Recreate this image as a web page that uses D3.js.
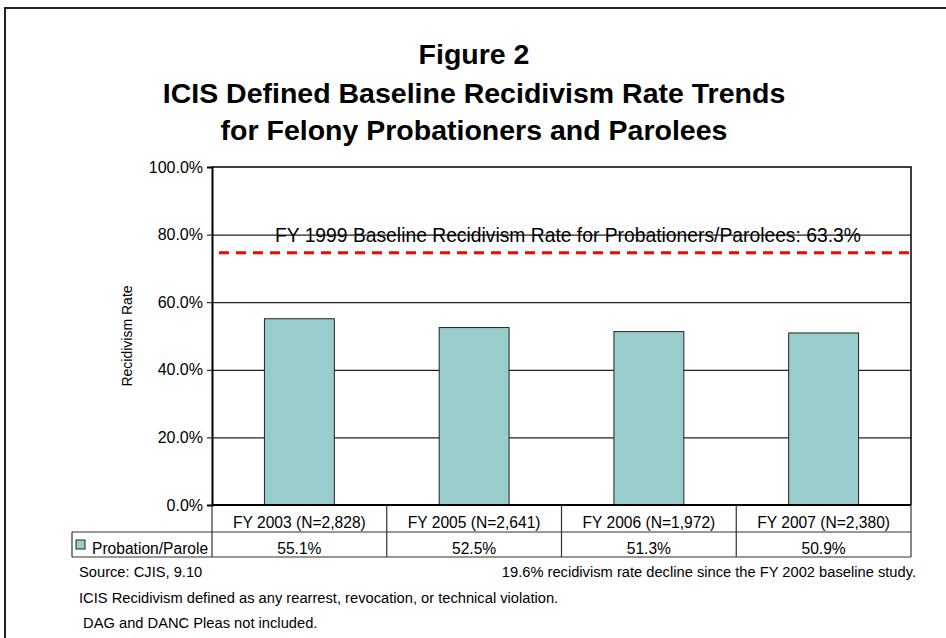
<!DOCTYPE html>
<html>
<head>
<meta charset="utf-8">
<script src="https://cdn.jsdelivr.net/npm/d3@7"></script>
<style>
  html, body { margin: 0; padding: 0; background: #fff; }
  svg { display: block; font-family: "Liberation Sans", Arial, sans-serif; }
</style>
</head>
<body>
<svg id="chart" width="946" height="638"></svg>
<script>
// ---- data ----
const titleLines = ["Figure 2", "ICIS Defined Baseline Recidivism Rate Trends", "for Felony Probationers and Parolees"];
const categories = ["FY 2003 (N=2,828)", "FY 2005 (N=2,641)", "FY 2006 (N=1,972)", "FY 2007 (N=2,380)"];
const values = [55.1, 52.5, 51.3, 50.9];
const seriesName = "Probation/Parole";
const tickValues = [0, 20, 40, 60, 80, 100];
const baselineValue = 74.6;   // position at which the dashed reference line is drawn
const baselineLabel = "FY 1999 Baseline Recidivism Rate for Probationers/Parolees: 63.3%";
const yAxisTitle = "Recidivism Rate";
const notesLeft = ["Source: CJIS, 9.10", "ICIS Recidivism defined as any rearrest, revocation, or technical violation.", " DAG and DANC Pleas not included."];
const noteRight = "19.6% recidivism rate decline since the FY 2002 baseline study.";

// ---- layout ----
const svg = d3.select("#chart");
const P = { left: 212, right: 911, top: 167, bottom: 505 };
const tableLeft = 72, row1 = 532, row2 = 557;

// outer frame (top and left visible)
svg.append("rect").attr("x", 5).attr("y", 8).attr("width", 1000).attr("height", 1000)
  .attr("fill", "none").attr("stroke", "#222").attr("stroke-width", 2);

// title
svg.append("g").selectAll("text").data(titleLines).join("text")
  .attr("x", 474).attr("y", (d, i) => [64, 103, 140][i])
  .attr("text-anchor", "middle").attr("font-weight", "bold").attr("font-size", 28.5)
  .attr("fill", "#000").text(d => d);

const x = d3.scaleBand().domain(categories).range([P.left, P.right]).paddingInner(0.6).paddingOuter(0.3);
const y = d3.scaleLinear().domain([0, 100]).range([P.bottom, P.top]);

// gridlines
svg.append("g").attr("transform", `translate(${P.left},0)`)
  .call(d3.axisLeft(y).tickValues(tickValues.filter(v => v > 0 && v < 100)).tickSize(-(P.right - P.left)).tickFormat(""))
  .call(g => g.select(".domain").remove())
  .call(g => g.selectAll("line").attr("stroke", "#222").attr("stroke-width", 1.2));

// plot border top/right
svg.append("path").attr("d", `M${P.left},${P.top}H${P.right}V${P.bottom}`)
  .attr("fill", "none").attr("stroke", "#000").attr("stroke-width", 1.5);

// bars
svg.append("g").selectAll("rect").data(values).join("rect")
  .attr("x", (d, i) => x(categories[i])).attr("width", x.bandwidth())
  .attr("y", d => y(d)).attr("height", d => y(0) - y(d))
  .attr("fill", "#99CCCC").attr("stroke", "#222").attr("stroke-width", 1);

// baseline dashed line + label
svg.append("line").attr("x1", P.left + 7).attr("x2", P.right)
  .attr("y1", y(baselineValue)).attr("y2", y(baselineValue))
  .attr("stroke", "#FF0000").attr("stroke-width", 3).attr("stroke-dasharray", "10,7");
svg.append("text").attr("x", 275).attr("y", y(80) + 7).attr("font-size", 19.3).attr("fill", "#000")
  .text(baselineLabel);

// y axis
const yAxis = svg.append("g").attr("transform", `translate(${P.left},0)`)
  .call(d3.axisLeft(y).tickValues(tickValues).tickSize(5).tickPadding(4).tickFormat(d => d.toFixed(1) + "%"));
yAxis.select(".domain").attr("stroke", "#000").attr("stroke-width", 2);
yAxis.selectAll("line").attr("stroke", "#000");
yAxis.selectAll("text").attr("font-size", 16).attr("fill", "#000").attr("font-family", "Liberation Sans, Arial, sans-serif");

// x baseline
svg.append("line").attr("x1", P.left).attr("x2", P.right).attr("y1", P.bottom).attr("y2", P.bottom)
  .attr("stroke", "#000").attr("stroke-width", 2);

// y axis title
svg.append("text").attr("transform", `translate(132,336) rotate(-90)`)
  .attr("text-anchor", "middle").attr("font-size", 14).attr("fill", "#000").text(yAxisTitle);

// data table
const step = x.step();
const colEdges = categories.map((c, i) => x(c) + x.bandwidth() / 2 - step / 2);
const tbl = svg.append("g").attr("stroke", "#333").attr("stroke-width", 1.2);
colEdges.forEach(cx => tbl.append("line").attr("x1", cx).attr("x2", cx).attr("y1", P.bottom).attr("y2", row2));
tbl.append("line").attr("x1", P.right).attr("x2", P.right).attr("y1", P.bottom).attr("y2", row2);
tbl.append("line").attr("x1", tableLeft).attr("x2", P.right).attr("y1", row1).attr("y2", row1);
tbl.append("line").attr("x1", tableLeft).attr("x2", P.right).attr("y1", row2).attr("y2", row2);
tbl.append("line").attr("x1", tableLeft).attr("x2", tableLeft).attr("y1", row1).attr("y2", row2);

svg.append("g").selectAll("text").data(categories).join("text")
  .attr("x", d => x(d) + x.bandwidth() / 2).attr("y", 527.5)
  .attr("text-anchor", "middle").attr("font-size", 15.6).attr("fill", "#000").text(d => d);
svg.append("g").selectAll("text").data(values).join("text")
  .attr("x", (d, i) => x(categories[i]) + x.bandwidth() / 2).attr("y", 553.5)
  .attr("text-anchor", "middle").attr("font-size", 15.6).attr("fill", "#000").text(d => d.toFixed(1) + "%");

// legend key
svg.append("rect").attr("x", 76).attr("y", 540).attr("width", 9).attr("height", 9)
  .attr("fill", "#99CCCC").attr("stroke", "#222").attr("stroke-width", 1);
svg.append("text").attr("x", 92).attr("y", 553.5).attr("font-size", 15.6).attr("fill", "#000").text(seriesName);

// notes
svg.append("g").selectAll("text").data(notesLeft).join("text")
  .attr("x", 79).attr("y", (d, i) => [577, 603, 628][i])
  .attr("font-size", 14.7).attr("fill", "#000").style("white-space", "pre").text(d => d);
svg.append("text").attr("x", 916).attr("y", 577).attr("text-anchor", "end")
  .attr("font-size", 14.7).attr("fill", "#000").text(noteRight);
</script>
</body>
</html>
